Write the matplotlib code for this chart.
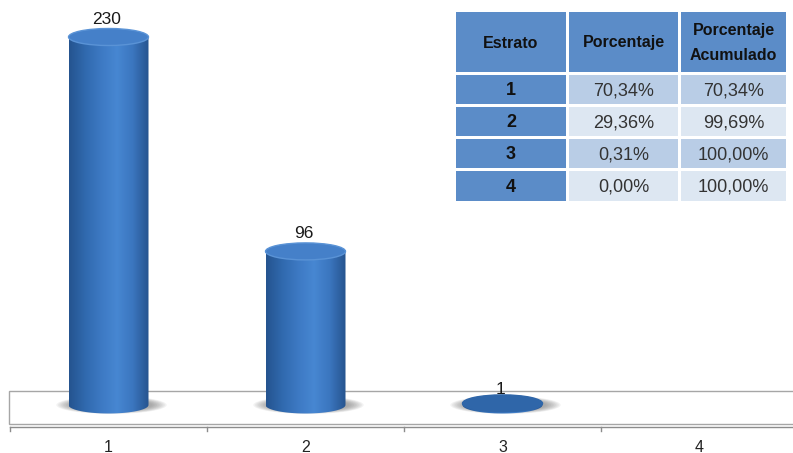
import matplotlib
matplotlib.use('Agg')
import matplotlib.pyplot as plt
import numpy as np
from matplotlib.colors import LinearSegmentedColormap
from matplotlib.patches import Ellipse, Rectangle, PathPatch
from matplotlib.path import Path

# ---------------------------------------------------------------------------
# Data
# ---------------------------------------------------------------------------
categories = ['1', '2', '3', '4']
counts = [230, 96, 1, 0]

table_header = ['Estrato', 'Porcentaje', 'Porcentaje\nAcumulado']
table_estrato = ['1', '2', '3', '4']
table_pct = ['70,34%', '29,36%', '0,31%', '0,00%']
table_cum = ['70,34%', '99,69%', '100,00%', '100,00%']

# ---------------------------------------------------------------------------
# Style
# ---------------------------------------------------------------------------
FONT = ['Liberation Sans Narrow', 'Liberation Sans', 'DejaVu Sans']
HEAD_BLUE = '#5b8cc8'
ROW_A = '#b9cde6'
ROW_B = '#dde7f2'
body_cmap = LinearSegmentedColormap.from_list(
    'cyl', ['#25548f', '#3069ae', '#3d79c3', '#4787d2', '#3b76bf', '#26548f'])

W, H = 793, 453
fig = plt.figure(figsize=(W / 100, H / 100), dpi=100)

# chart axes: x in category units, y in count units
px_per_cat = 197.0
x0_px = 10.0
base_py = 405.0
px_per_unit = 1.6
ax = fig.add_axes([0, 0, 1, 1])
ax.axis('off')

u = 1.0 / px_per_unit      # one pixel in y units
c = 1.0 / px_per_cat       # one pixel in x units

# floor box
floor = Rectangle((-1 * c, -19 * u), 900 * c, 33 * u, facecolor='white',
                  edgecolor='#a6a6a6', lw=1.0, zorder=1)
ax.add_patch(floor)
# category axis
ax.plot([0, len(categories) + 0.1], [-22 * u, -22 * u], color='#8c8c8c', lw=1.0, zorder=1)
for i in range(len(categories)):
    ax.plot([i, i], [-22 * u, -26 * u], color='#8c8c8c', lw=1.0, zorder=1)
    ax.text(i + 0.5, -42 * u, categories[i], ha='center', va='center',
            fontsize=11.5, family=FONT, color='#222222')

bw = 80 * c
eh = 17 * u
for i, v in enumerate(counts):
    if v <= 0:
        continue
    xc = i + 0.5
    # soft shadow at the base
    for k in range(10):
        ax.add_patch(Ellipse((xc + 3 * c, 0), bw * (1.38 - 0.04 * k), eh * (1.05 - 0.04 * k),
                             facecolor='#6e6e6e', edgecolor='none', alpha=0.08, zorder=2))
    # body
    t = np.linspace(np.pi, 2 * np.pi, 40)
    arc = np.column_stack([xc + bw / 2 * np.cos(t), eh / 2 * np.sin(t)])
    verts = np.vstack([[xc - bw / 2, v], arc, [xc + bw / 2, v], [xc - bw / 2, v]])
    path = Path(verts, [Path.MOVETO] + [Path.LINETO] * (len(verts) - 2) + [Path.CLOSEPOLY])
    clip = PathPatch(path, facecolor='none', edgecolor='none')
    ax.add_patch(clip)
    grad = np.linspace(0, 1, 200).reshape(1, -1)
    im = ax.imshow(grad, cmap=body_cmap, aspect='auto', interpolation='bilinear',
                   extent=(xc - bw / 2, xc + bw / 2, -eh, v), zorder=3)
    im.set_clip_path(clip)
    # top cap
    tall = v > 5
    ax.add_patch(Ellipse((xc, v), bw, eh, facecolor='#4580c9' if tall else '#2f66a9',
                         edgecolor='#5a93d6' if tall else '#2f66a9', lw=1.0, zorder=4))
    ax.text(xc - 2 * c, v + (18 if tall else 14) * u, str(v), ha='center', va='center',
            fontsize=12.5, family=FONT, color='#1a1a1a', zorder=5)

# limits set after imshow
ax.set_xlim(-x0_px / px_per_cat, (W - x0_px) / px_per_cat)
ax.set_ylim((base_py - H) / px_per_unit, base_py / px_per_unit)

# ---------------------------------------------------------------------------
# Table (figure pixel coordinates)
# ---------------------------------------------------------------------------
tab = fig.add_axes([0, 0, 1, 1], facecolor='none')
tab.set_xlim(0, W)
tab.set_ylim(H, 0)
tab.axis('off')

col_edges = [(456, 566), (569, 678), (681, 786)]
head_rows = (12, 72)
row_edges = [(75, 104), (107, 136), (139, 168), (171, 201)]

for j, (xa, xb) in enumerate(col_edges):
    tab.add_patch(Rectangle((xa, head_rows[0]), xb - xa, head_rows[1] - head_rows[0],
                            facecolor=HEAD_BLUE, edgecolor='none'))
    tab.text((xa + xb) / 2, sum(head_rows) / 2 + 1, table_header[j], ha='center', va='center',
             fontsize=11.5, fontweight='bold', family=FONT, color='#111111', linespacing=1.75)

for r, (ya, yb) in enumerate(row_edges):
    cells = [table_estrato[r], table_pct[r], table_cum[r]]
    for j, (xa, xb) in enumerate(col_edges):
        if j == 0:
            fc = HEAD_BLUE
        else:
            fc = ROW_A if r % 2 == 0 else ROW_B
        tab.add_patch(Rectangle((xa, ya), xb - xa, yb - ya, facecolor=fc, edgecolor='none'))
        tab.text((xa + xb) / 2, (ya + yb) / 2 + 1, cells[j], ha='center', va='center',
                 fontsize=13, fontweight='bold' if j == 0 else 'normal',
                 family=FONT, color='#111111' if j == 0 else '#333333')

fig.savefig('out.png', dpi=100)
